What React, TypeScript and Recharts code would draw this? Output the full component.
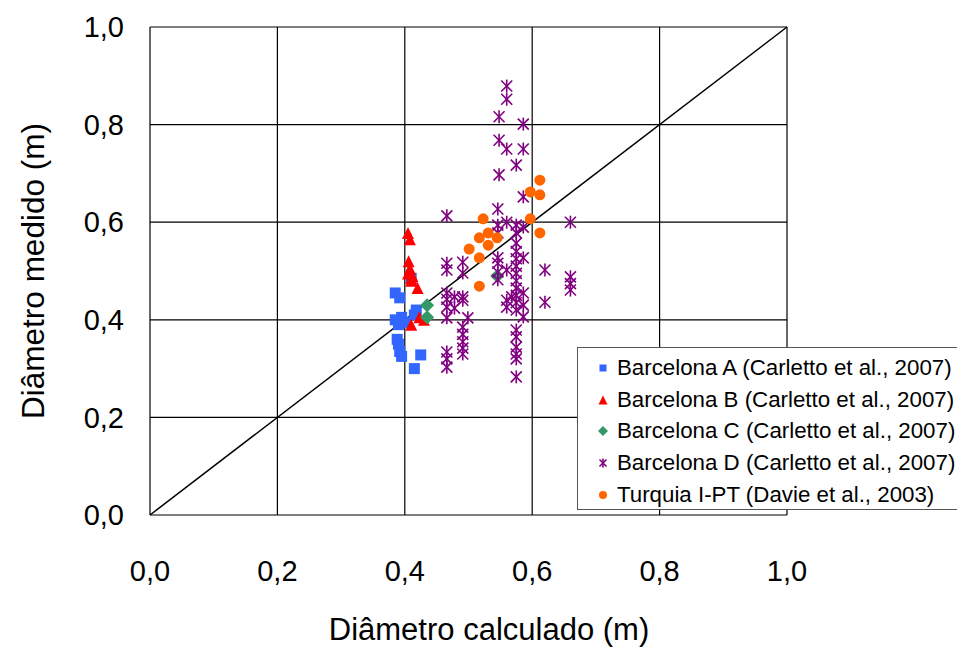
import React from 'react';
import {
  ScatterChart,
  Scatter,
  XAxis,
  YAxis,
  CartesianGrid,
  ReferenceLine,
} from 'recharts';

const barcelonaA = [
  [0.385, 0.455], [0.392, 0.445], [0.385, 0.4], [0.395, 0.405], [0.39, 0.39],
  [0.4, 0.395], [0.418, 0.42], [0.415, 0.41], [0.388, 0.36], [0.39, 0.35],
  [0.392, 0.335], [0.395, 0.325], [0.425, 0.328], [0.415, 0.3], [0.41, 0.485],
];
const barcelonaB = [
  [0.405, 0.578], [0.408, 0.565], [0.406, 0.52], [0.408, 0.505], [0.405, 0.495],
  [0.41, 0.485], [0.412, 0.49], [0.42, 0.465], [0.41, 0.39], [0.423, 0.405],
  [0.43, 0.4], [0.41, 0.48],
];
const barcelonaC = [[0.435, 0.43], [0.435, 0.405], [0.545, 0.49]];
const barcelonaD = [
  [0.466, 0.613], [0.466, 0.516], [0.466, 0.502], [0.466, 0.455], [0.466, 0.442],
  [0.466, 0.426], [0.466, 0.404], [0.466, 0.334], [0.466, 0.32], [0.466, 0.303],
  [0.478, 0.447], [0.478, 0.424],
  [0.491, 0.518], [0.491, 0.496], [0.491, 0.447], [0.491, 0.44], [0.499, 0.404],
  [0.491, 0.385], [0.491, 0.37], [0.491, 0.355], [0.491, 0.342], [0.491, 0.33],
  [0.546, 0.627], [0.546, 0.594], [0.546, 0.578], [0.546, 0.527], [0.546, 0.516],
  [0.546, 0.498], [0.546, 0.482], [0.548, 0.697], [0.548, 0.768], [0.548, 0.816],
  [0.56, 0.879], [0.56, 0.852], [0.56, 0.75], [0.56, 0.6], [0.56, 0.502],
  [0.56, 0.44], [0.56, 0.426], [0.568, 0.447],
  [0.575, 0.717], [0.575, 0.594], [0.575, 0.578], [0.575, 0.557], [0.575, 0.54],
  [0.575, 0.525], [0.575, 0.51], [0.575, 0.495], [0.575, 0.48], [0.575, 0.465],
  [0.575, 0.45], [0.575, 0.435], [0.575, 0.42], [0.575, 0.379], [0.575, 0.365],
  [0.575, 0.344], [0.575, 0.33], [0.575, 0.32], [0.575, 0.283],
  [0.586, 0.801], [0.586, 0.75], [0.586, 0.652], [0.586, 0.59], [0.586, 0.527],
  [0.586, 0.455], [0.586, 0.43], [0.586, 0.406],
  [0.62, 0.502], [0.62, 0.436],
  [0.66, 0.6], [0.66, 0.488], [0.66, 0.474], [0.66, 0.461],
];
const turquia = [
  [0.523, 0.607], [0.597, 0.607], [0.612, 0.578], [0.517, 0.568], [0.531, 0.578],
  [0.545, 0.568], [0.531, 0.553], [0.501, 0.545], [0.517, 0.527], [0.517, 0.469],
  [0.612, 0.686], [0.597, 0.662], [0.612, 0.656],
];

const ticks = [0, 0.2, 0.4, 0.6, 0.8, 1.0];
const seriesNames = [
  'Barcelona A (Carletto et al., 2007)',
  'Barcelona B (Carletto et al., 2007)',
  'Barcelona C (Carletto et al., 2007)',
  'Barcelona D (Carletto et al., 2007)',
  'Turquia I-PT (Davie et al., 2003)',
];
const colors = ['#3366ff', '#ff0000', '#339966', '#800080', '#ff6600'];

const toPoints = (arr: number[][]) => arr.map(([x, y]) => ({ x, y }));
const fmt = (v: number) => v.toFixed(1).replace('.', ',');
const FONT = 'Liberation Sans, Arial, sans-serif';

const Square = ({ cx, cy, s = 5.5, fill = colors[0] }: any) => (
  <rect x={cx - s} y={cy - s} width={s * 2} height={s * 2} fill={fill} />
);
const Triangle = ({ cx, cy, s = 6, fill = colors[1] }: any) => (
  <polygon points={`${cx},${cy - s} ${cx + s},${cy + s} ${cx - s},${cy + s}`} fill={fill} />
);
const Diamond = ({ cx, cy, s = 7, fill = colors[2] }: any) => (
  <polygon points={`${cx},${cy - s} ${cx + s},${cy} ${cx},${cy + s} ${cx - s},${cy}`} fill={fill} />
);
const Star = ({ cx, cy, s = 5.5, stroke = colors[3] }: any) => (
  <g stroke={stroke} strokeWidth={1.6}>
    <line x1={cx - s} y1={cy - s} x2={cx + s} y2={cy + s} />
    <line x1={cx - s} y1={cy + s} x2={cx + s} y2={cy - s} />
    <line x1={cx} y1={cy - s - 1} x2={cx} y2={cy + s + 1} />
  </g>
);
const Dot = ({ cx, cy, s = 5.5, fill = colors[4] }: any) => (
  <circle cx={cx} cy={cy} r={s} fill={fill} />
);

const legendMarkers = [
  <Square cx={9} cy={10} s={3.5} />,
  <Triangle cx={9} cy={10} s={4.5} />,
  <Diamond cx={9} cy={10} s={5} />,
  <Star cx={9} cy={10} s={3.5} />,
  <Dot cx={9} cy={10} s={4} />,
];

const LegendBox = () => (
  <div
    style={{
      position: 'absolute',
      left: 569,
      top: 339,
      width: 384,
      height: 163,
      border: '1px solid #555',
      background: '#fff',
      padding: '4px 0 0 16px',
      fontFamily: FONT,
      fontSize: 22.3,
      boxSizing: 'border-box',
      whiteSpace: 'nowrap',
      overflow: 'hidden',
    }}
  >
    {seriesNames.map((n, i) => (
      <div key={n} style={{ display: 'flex', alignItems: 'center', height: 31.75 }}>
        <svg width={18} height={20} style={{ marginRight: 5 }}>
          {legendMarkers[i]}
        </svg>
        <span>{n}</span>
      </div>
    ))}
  </div>
);

export default function App() {
  return (
    <div style={{ position: 'relative', width: 949, height: 641 }}>
      <style>{'html,body{overflow:hidden}'}</style>
      <ScatterChart
        width={949}
        height={641}
        margin={{ top: 19, right: 170, bottom: 0, left: 0 }}
        style={{ fontFamily: FONT }}
      >
        <CartesianGrid stroke="#000" strokeWidth={1.2} horizontalValues={ticks} verticalValues={ticks} />
        <XAxis
          type="number"
          dataKey="x"
          domain={[0, 1]}
          ticks={ticks}
          tickFormatter={fmt}
          height={134}
          tickSize={0}
          tickMargin={45}
          axisLine={false}
          tick={{ fill: '#000', fontSize: 29, fontFamily: FONT }}
          label={{
            content: () => (
              <text x={481} y={632} textAnchor="middle" fontSize={31} fontFamily={FONT} fill="#000">
                Diâmetro calculado (m)
              </text>
            ),
          }}
        />
        <YAxis
          type="number"
          dataKey="y"
          domain={[0, 1]}
          ticks={ticks}
          tickFormatter={fmt}
          width={142}
          tickSize={0}
          tickMargin={26}
          axisLine={false}
          tick={{ fill: '#000', fontSize: 29, fontFamily: FONT }}
          label={{
            content: () => (
              <text
                x={36}
                y={263}
                textAnchor="middle"
                fontSize={31.5}
                fontFamily={FONT}
                fill="#000"
                transform="rotate(-90 36 263)"
              >
                Diâmetro medido (m)
              </text>
            ),
          }}
        />
        <ReferenceLine
          segment={[{ x: 0, y: 0 }, { x: 1, y: 1 }]}
          stroke="#000"
          strokeWidth={1.5}
          ifOverflow="visible"
        />
        <Scatter name={seriesNames[0]} data={toPoints(barcelonaA)} shape={<Square />} isAnimationActive={false} />
        <Scatter name={seriesNames[1]} data={toPoints(barcelonaB)} shape={<Triangle />} isAnimationActive={false} />
        <Scatter name={seriesNames[2]} data={toPoints(barcelonaC)} shape={<Diamond />} isAnimationActive={false} />
        <Scatter name={seriesNames[3]} data={toPoints(barcelonaD)} shape={<Star />} isAnimationActive={false} />
        <Scatter name={seriesNames[4]} data={toPoints(turquia)} shape={<Dot />} isAnimationActive={false} />
      </ScatterChart>
      <LegendBox />
    </div>
  );
}
